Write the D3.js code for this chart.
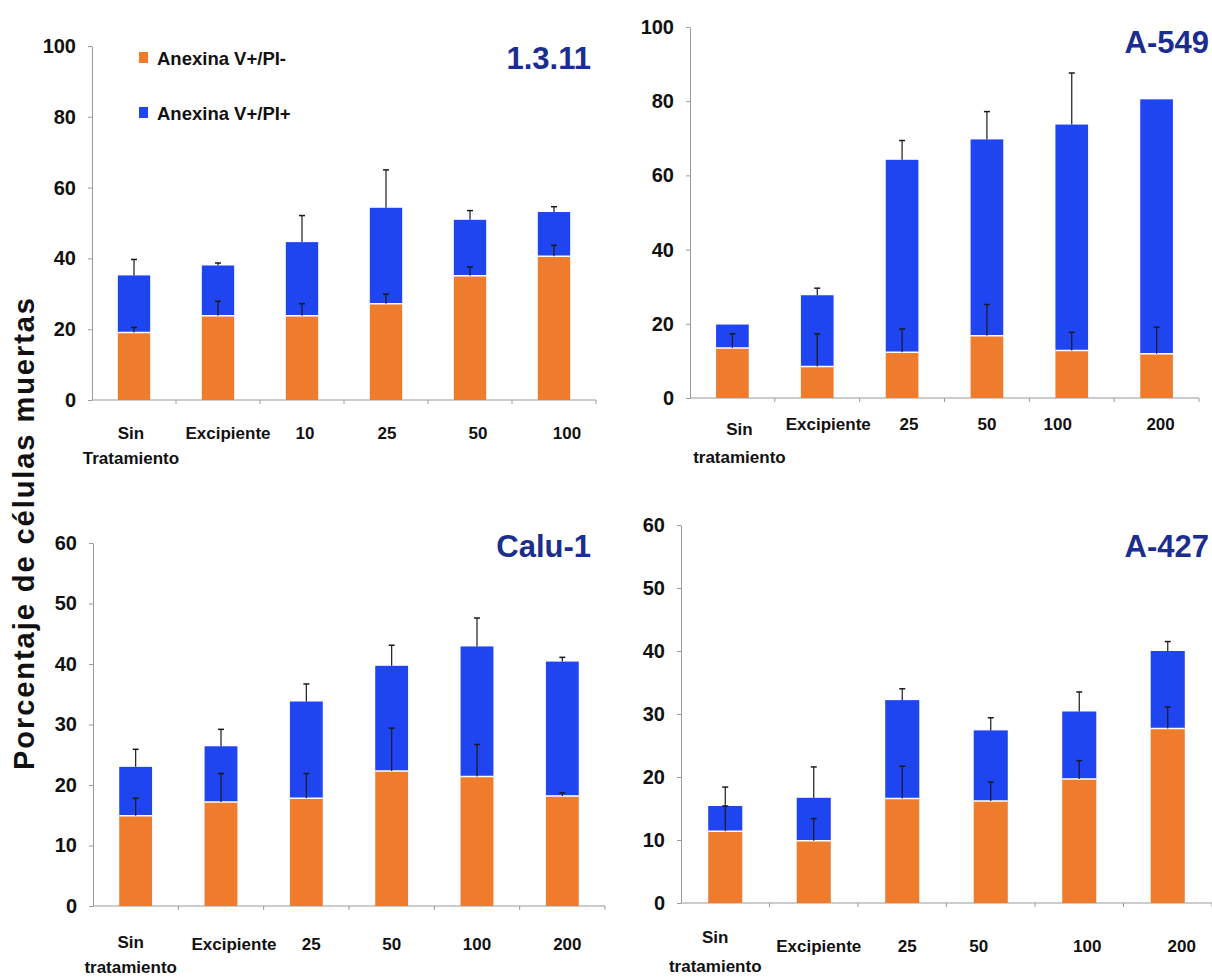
<!DOCTYPE html>
<html>
<head>
<meta charset="utf-8">
<script src="https://cdn.jsdelivr.net/npm/d3@7"></script>
<style>
  html, body { margin: 0; padding: 0; background: #ffffff; }
  svg { display: block; }
  text { font-family: "Liberation Sans", Arial, sans-serif; font-weight: bold; }
</style>
</head>
<body>
<svg id="chart" width="1212" height="978"></svg>
<script>
// ---------------- DATA ----------------
const categories1311 = ["Sin Tratamiento", "Excipiente", "10", "25", "50", "100"];
const categoriesOther = ["Sin tratamiento", "Excipiente", "25", "50", "100", "200"];

const seriesNames = ["Anexina V+/PI-", "Anexina V+/PI+"];

// 1.3.11
const neg1311 = [19.1, 23.8, 23.8, 27.2, 35.1, 40.6];
const pos1311 = [16.1, 14.2, 20.8, 27.1, 15.8, 12.5];
const negErr1311 = [1.4, 4.1, 3.4, 2.7, 2.5, 3.1];
const totErr1311 = [4.5, 0.7, 7.5, 10.7, 2.6, 1.5];

// A-549
const negA549 = [13.5, 8.5, 12.3, 16.8, 12.8, 11.9];
const posA549 = [6.3, 19.2, 51.9, 52.9, 60.9, 68.6];
const negErrA549 = [3.8, 8.8, 6.3, 8.4, 4.9, 7.2];
const totErrA549 = [0, 1.9, 5.2, 7.5, 13.9, 0];

// Calu-1
const negCalu1 = [14.9, 17.2, 17.8, 22.3, 21.4, 18.2];
const posCalu1 = [8.1, 9.2, 16.0, 17.4, 21.5, 22.2];
const negErrCalu1 = [2.9, 4.7, 4.1, 7.1, 5.3, 0.5];
const totErrCalu1 = [2.9, 2.8, 2.9, 3.4, 4.7, 0.7];

// A-427
const negA427 = [11.4, 9.9, 16.6, 16.2, 19.7, 27.7];
const posA427 = [4.0, 6.8, 15.6, 11.2, 10.7, 12.3];
const negErrA427 = [4.0, 3.5, 5.1, 3.0, 2.9, 3.4];
const totErrA427 = [3.0, 4.9, 1.8, 2.0, 3.1, 1.5];

const yTicks100 = [0, 20, 40, 60, 80, 100];
const yTicks60 = [0, 10, 20, 30, 40, 50, 60];

const yAxisTitle = "Porcentaje de células  muertas";

// ---------------- STYLE / LAYOUT ----------------
const COLOR_NEG = "#EF7B2D";
const COLOR_POS = "#1F45F0";
const TITLE_COLOR = "#1B2D8F";
const AXIS_COLOR = "#9a9a9a";

const panels = [
  { title: "1.3.11", cats: categories1311, neg: neg1311, pos: pos1311, negErr: negErr1311, totErr: totErr1311,
    yMax: 100, ticks: yTicks100, x0: 92, x1: 596, y0: 400, yTop: 46,
    titleX: 591, titleY: 69, labelShift: [-3, 10, 3, 1, 8, 13], dyFirst: 39, dyOther: 39, dySecond: 64, legend: true },
  { title: "A-549", cats: categoriesOther, neg: negA549, pos: posA549, negErr: negErrA549, totErr: totErrA549,
    yMax: 100, ticks: yTicks100, x0: 690, x1: 1199, y0: 398, yTop: 27,
    titleX: 1209, titleY: 53, labelShift: [7, 11, 7, 0, -14, 4], dyFirst: 37, dyOther: 32, dySecond: 65 },
  { title: "Calu-1", cats: categoriesOther, neg: negCalu1, pos: posCalu1, negErr: negErrCalu1, totErr: totErrCalu1,
    yMax: 60, ticks: yTicks60, x0: 93, x1: 605, y0: 906, yTop: 543,
    titleX: 591, titleY: 557, labelShift: [-5, 13, 5, 0, 0, 5], dyFirst: 42, dyOther: 44, dySecond: 67 },
  { title: "A-427", cats: categoriesOther, neg: negA427, pos: posA427, negErr: negErrA427, totErr: totErrA427,
    yMax: 60, ticks: yTicks60, x0: 681, x1: 1212, y0: 903, yTop: 525,
    titleX: 1209, titleY: 557, labelShift: [-10, 5, 5, -12, 8, 14], dyFirst: 40, dyOther: 49, dySecond: 69 }
];

const svg = d3.select("#chart");
svg.append("rect").attr("width", 1212).attr("height", 978).attr("fill", "#ffffff");

panels.forEach(p => {
  const g = svg.append("g");
  const x = d3.scaleBand().domain(p.cats).range([p.x0, p.x1]).paddingInner(0.615).paddingOuter(0.3075);
  const y = d3.scaleLinear().domain([0, p.yMax]).range([p.y0, p.yTop]);

  // Y axis
  const yAxis = d3.axisLeft(y).tickValues(p.ticks).tickSize(4).tickSizeOuter(0).tickPadding(12).tickFormat(d3.format("d"));
  const ya = g.append("g").attr("transform", `translate(${p.x0},0)`).call(yAxis);
  ya.select(".domain").attr("stroke", AXIS_COLOR).attr("stroke-width", 1);
  ya.selectAll(".tick line").attr("stroke", AXIS_COLOR);
  ya.selectAll(".tick text").attr("fill", "#111").style("font-size", "20px")
    .style("font-family", "'Liberation Sans', Arial, sans-serif").style("font-weight", "bold");

  // X axis line and boundary ticks
  const step = x.step();
  const bounds = d3.range(p.cats.length + 1).map(i => p.x0 + i * step);
  g.append("line").attr("x1", p.x0).attr("x2", p.x1).attr("y1", y(0)).attr("y2", y(0))
    .attr("stroke", AXIS_COLOR).attr("stroke-width", 1.2);
  g.selectAll(".xb").data(bounds.slice(1)).join("line")
    .attr("x1", d => d).attr("x2", d => d).attr("y1", y(0)).attr("y2", y(0) + 4)
    .attr("stroke", AXIS_COLOR).attr("stroke-width", 1);

  const rows = p.cats.map((c, i) => ({ cat: c, neg: p.neg[i], pos: p.pos[i], negErr: p.negErr[i], totErr: p.totErr[i], i }));

  // Blue segments (PI+)
  g.selectAll(".pos").data(rows).join("rect")
    .attr("x", d => x(d.cat)).attr("width", x.bandwidth())
    .attr("y", d => y(d.neg + d.pos)).attr("height", d => y(d.neg) - y(d.neg + d.pos))
    .attr("fill", COLOR_POS);
  // Orange segments (PI-)
  g.selectAll(".neg").data(rows).join("rect")
    .attr("x", d => x(d.cat)).attr("width", x.bandwidth())
    .attr("y", d => y(d.neg)).attr("height", d => y(0) - y(d.neg))
    .attr("fill", COLOR_NEG);
  // White separator between segments
  g.selectAll(".sep").data(rows).join("line")
    .attr("x1", d => x(d.cat)).attr("x2", d => x(d.cat) + x.bandwidth())
    .attr("y1", d => y(d.neg)).attr("y2", d => y(d.neg))
    .attr("stroke", "#ffffff").attr("stroke-width", 1.5);

  // Error bars
  const errs = [];
  rows.forEach(d => {
    const cx = x(d.cat) + x.bandwidth() / 2;
    if (d.totErr > 0) errs.push({ cx, base: d.neg + d.pos, top: d.neg + d.pos + d.totErr });
    if (d.negErr > 0) errs.push({ cx, base: d.neg, top: d.neg + d.negErr });
  });
  g.selectAll(".ev").data(errs).join("line")
    .attr("x1", d => d.cx).attr("x2", d => d.cx)
    .attr("y1", d => y(d.base)).attr("y2", d => y(d.top))
    .attr("stroke", "#1a1a1a").attr("stroke-width", 1.2);
  g.selectAll(".ec").data(errs).join("line")
    .attr("x1", d => d.cx - 3).attr("x2", d => d.cx + 3)
    .attr("y1", d => y(d.top)).attr("y2", d => y(d.top))
    .attr("stroke", "#1a1a1a").attr("stroke-width", 1.5);

  // Category labels
  rows.forEach(d => {
    const cx = x(d.cat) + x.bandwidth() / 2 + p.labelShift[d.i];
    const sp = d.cat.indexOf(" ");
    if (d.cat.startsWith("Sin ") && sp > 0) {
      g.append("text").attr("x", cx).attr("y", y(0) + p.dyFirst).attr("text-anchor", "middle")
        .style("font-size", "17px").attr("fill", "#111").text(d.cat.slice(0, sp));
      g.append("text").attr("x", cx).attr("y", y(0) + p.dySecond).attr("text-anchor", "middle")
        .style("font-size", "17px").attr("fill", "#111").text(d.cat.slice(sp + 1));
    } else {
      g.append("text").attr("x", cx).attr("y", y(0) + p.dyOther).attr("text-anchor", "middle")
        .style("font-size", "17px").attr("fill", "#111").text(d.cat);
    }
  });

  // Title
  g.append("text").attr("x", p.titleX).attr("y", p.titleY).attr("text-anchor", "end")
    .style("font-size", "31px").attr("fill", TITLE_COLOR).text(p.title);

  // Legend
  if (p.legend) {
    const lg = g.append("g");
    const items = [{ name: seriesNames[0], color: COLOR_NEG, yy: 58 }, { name: seriesNames[1], color: COLOR_POS, yy: 113 }];
    items.forEach(it => {
      lg.append("rect").attr("x", 139).attr("y", it.yy - 6).attr("width", 9).attr("height", 11).attr("fill", it.color);
      lg.append("text").attr("x", 157).attr("y", it.yy + 6.5).style("font-size", "18.5px").attr("fill", "#111").text(it.name);
    });
  }
});

// Y axis title
svg.append("text")
  .attr("transform", "translate(34,534) rotate(-90)")
  .attr("text-anchor", "middle")
  .attr("textLength", 472).attr("lengthAdjust", "spacing")
  .style("font-size", "29px").attr("fill", "#111")
  .text(yAxisTitle);
</script>
</body>
</html>
